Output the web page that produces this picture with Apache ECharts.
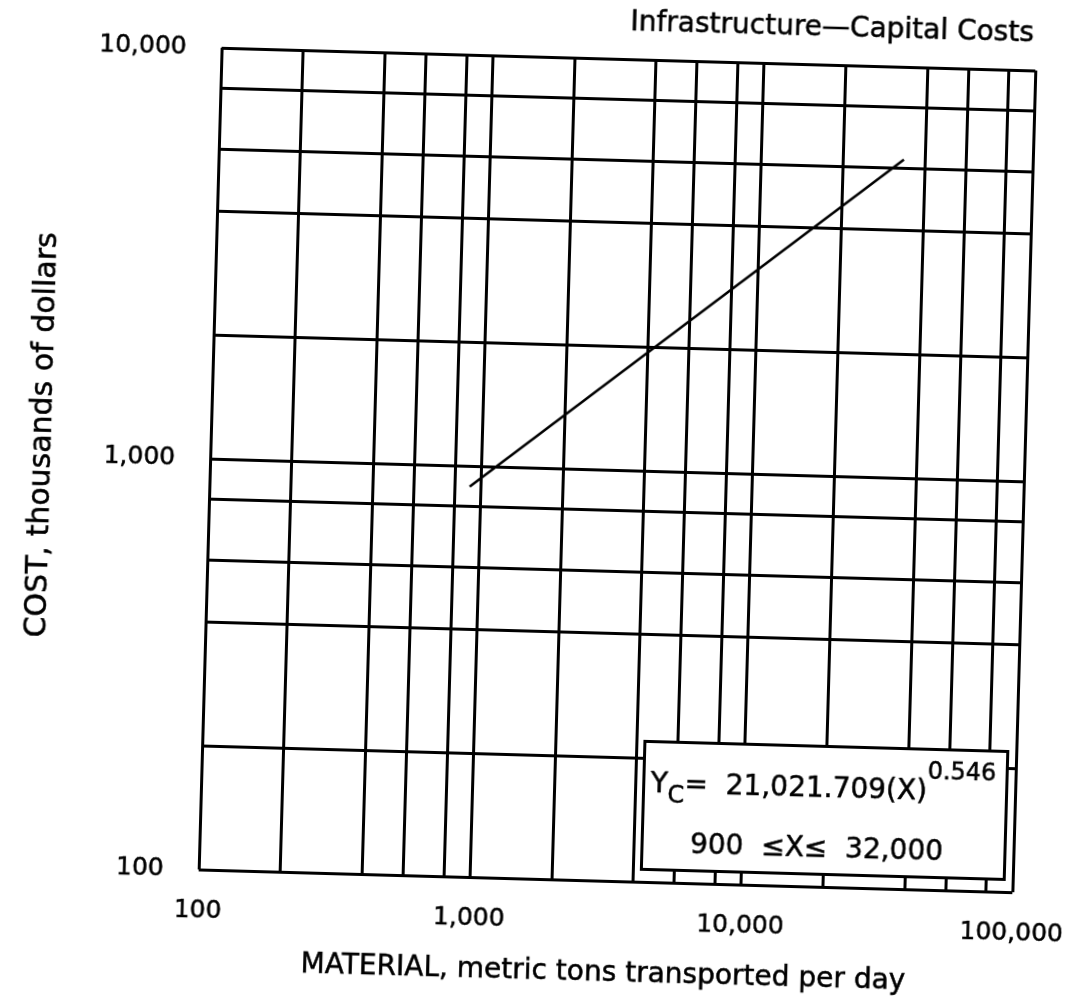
<!DOCTYPE html>
<html>
<head>
<meta charset="utf-8">
<script src="https://cdn.jsdelivr.net/npm/echarts@6/dist/echarts.min.js"></script>
<style>
html,body{margin:0;padding:0;background:#fff;overflow:hidden;}
#chart{position:absolute;left:0;top:0;width:1075px;height:1008px;transform:rotate(1.6deg);transform-origin:617.75px 470px;}
</style>
</head>
<body>
<div id="chart"></div>
<script>
// ---- data ----
const titleText = 'Infrastructure\u2014Capital Costs';
const xAxisTitle = 'MATERIAL, metric tons transported per day';
const yAxisTitle = 'COST, thousands of dollars';
const xTicks = [100, 1000, 10000, 100000];
const xTickLabels = ['100', '1,000', '10,000', '100,000'];
const yTicks = [100, 1000, 10000];
const yTickLabels = ['100', '1,000', '10,000'];
const xGridValues = [100, 200, 400, 566, 800, 1000, 2000, 4000, 5660, 8000, 10000, 20000, 40000, 56600, 80000, 100000];
const yGridValues = [100, 200, 400, 566, 800, 1000, 2000, 4000, 5660, 8000, 10000];
const curveX = [910, 33500];
const curveY = [890, 5950];
const eqLine1 = ['Y', 'C', '=  21,021.709(X)', '0.546'];
const eqLine2 = '900  \u2264X\u2264  32,000';

function lookup(ticks, labels, v) {
  let best = -1, bd = Infinity;
  ticks.forEach((t, i) => {
    const d = Math.abs(Math.log10(t) - Math.log10(v));
    if (d < bd) { bd = d; best = i; }
  });
  return bd < 0.01 ? labels[best] : '';
}

const FONT = 'DejaVu Sans';
const PEN = {textBorderColor: '#000', textBorderWidth: 0.5};
const chart = echarts.init(document.getElementById('chart'), null, {renderer: 'canvas'});
const gridStyle = {color: '#000', width: 3, type: 'solid'};

const option = {
  backgroundColor: '#fff',
  animation: false,
  title: {
    text: titleText,
    right: 48, top: 4,
    textStyle: Object.assign({fontFamily: FONT, fontSize: 28, fontWeight: 'normal', color: '#000'}, PEN)
  },
  grid: {left: 210, top: 59, width: 814, height: 822, containLabel: false, outerBoundsMode: 'none'},
  xAxis: {
    type: 'log', logBase: 10, min: 100, max: 100000,
    name: xAxisTitle, nameLocation: 'middle', nameGap: 79,
    nameTextStyle: Object.assign({fontFamily: FONT, fontSize: 28, color: '#000'}, PEN),
    axisLine: {show: false}, axisTick: {show: false}, splitLine: {show: false},
    axisLabel: Object.assign({
      margin: 29, fontFamily: FONT, fontSize: 25, color: '#000',
      formatter: v => lookup(xTicks, xTickLabels, v)
    }, PEN)
  },
  yAxis: {
    type: 'log', logBase: 10, min: 100, max: 10000,
    name: yAxisTitle, nameLocation: 'middle', nameGap: 153,
    nameTextStyle: Object.assign({fontFamily: FONT, fontSize: 30, color: '#000', padding: [0, 0, 0, 38]}, PEN),
    axisLine: {show: false}, axisTick: {show: false}, splitLine: {show: false},
    axisLabel: Object.assign({
      margin: 35, fontFamily: FONT, fontSize: 25, color: '#000',
      formatter: v => lookup(yTicks, yTickLabels, v)
    }, PEN)
  },
  series: [{
    type: 'line',
    data: curveX.map((x, i) => [x, curveY[i]]),
    showSymbol: false, symbol: 'none',
    lineStyle: {color: '#000', width: 2.5},
    silent: true,
    z: 3,
    markLine: {
      silent: true, symbol: ['none', 'none'], label: {show: false},
      lineStyle: gridStyle,
      emphasis: {disabled: true},
      data: xGridValues.map(v => ({xAxis: v})).concat(yGridValues.map(v => ({yAxis: v})))
    }
  }],
  graphic: [
    {type: 'rect', left: 651, top: 739, z: 100,
     shape: {width: 363, height: 128},
     style: {fill: '#fff', stroke: '#000', lineWidth: 3}},
    {type: 'text', x: 832, y: 784, z: 101,
     style: {
       text: '{a|' + eqLine1[0] + '}{s|' + eqLine1[1] + '}{a|' + eqLine1[2] + '}{p|' + eqLine1[3] + '}',
       align: 'center', verticalAlign: 'middle',
       rich: {
         a: {fontFamily: FONT, fontSize: 28, lineHeight: 64, verticalAlign: 'middle', fill: '#000', stroke: '#000', lineWidth: 0.5},
         s: {fontFamily: FONT, fontSize: 24, lineHeight: 24, verticalAlign: 'bottom', padding: [0, 0, 9, 0], fill: '#000', stroke: '#000', lineWidth: 0.5},
         p: {fontFamily: FONT, fontSize: 24, lineHeight: 24, verticalAlign: 'top', fill: '#000', stroke: '#000', lineWidth: 0.5}
       }
     }},
    {type: 'text', x: 827, y: 844, z: 101,
     style: {text: eqLine2, align: 'center', verticalAlign: 'middle',
             font: '28px "DejaVu Sans"', fill: '#000', stroke: '#000', lineWidth: 0.5}}
  ]
};
chart.setOption(option);
</script>
</body>
</html>
